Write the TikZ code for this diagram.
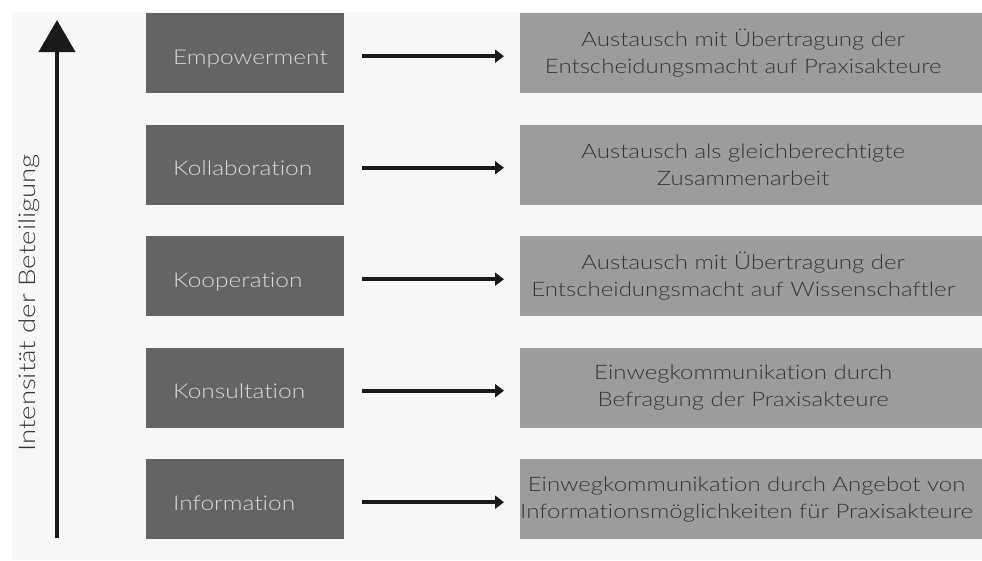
\documentclass[tikz,border=0pt]{standalone}
\usepackage{fontspec}
\setmainfont{Lato}[UprightFont={* Light}, FakeStretch=1.2, Ligatures=NoCommon]
\usetikzlibrary{arrows.meta}
\definecolor{bgcol}{HTML}{F7F7F7}
\definecolor{leftbox}{HTML}{646464}
\definecolor{lefttext}{HTML}{D8D8D8}
\definecolor{rightbox}{HTML}{9C9C9C}
\definecolor{righttext}{HTML}{363636}
\definecolor{arrcol}{HTML}{1A1A1A}
\tikzset{
  levelbox/.style={fill=leftbox, draw=none, minimum width=198pt, minimum height=80pt, inner sep=0pt, anchor=north west},
  leveltext/.style={text=lefttext, font=\fontsize{20.4}{24}\selectfont, anchor=base west, inner sep=0pt},
  descbox/.style={fill=rightbox, draw=none, minimum width=446pt, minimum height=80pt, inner sep=0pt, anchor=north west,
    text=righttext, align=center, font=\fontsize{20}{27}\selectfont},
  flow/.style={draw=arrcol, line width=3.6pt, -{Triangle[length=9pt,width=13pt]}, shorten <=18pt, shorten >=16pt},
}
\begin{document}
\begin{tikzpicture}[x=1pt,y=-1pt]
\useasboundingbox (0,0) rectangle (982,560);
\fill[white] (0,0) rectangle (982,560);
\fill[bgcol] (12,12) rectangle (982,560);
% axis
\coordinate (axbot) at (57,538);
\coordinate (axtop) at (57,20);
\draw[draw=arrcol, line width=4pt, -{Triangle[length=32pt,width=36pt]}] (axbot) -- (axtop);
\node[rotate=90, text=righttext, font=\fontsize{23}{27}\selectfont, inner sep=0pt] (axlabel) at (29,303) {Intensität der Beteiligung};
% levels
\foreach \i/\lt/\rt in {
  0/Empowerment/{Austausch mit Übertragung der\\Entscheidungsmacht auf Praxisakteure},
  1/Kollaboration/{Austausch als gleichberechtigte\\Zusammenarbeit},
  2/Kooperation/{Austausch mit Übertragung der\\Entscheidungsmacht auf Wissenschaftler},
  3/Konsultation/{Einwegkommunikation durch\\Befragung der Praxisakteure},
  4/Information/{Einwegkommunikation durch Angebot von\\Informationsmöglichkeiten für Praxisakteure}}{
  \pgfmathsetmacro{\ty}{13+111.5*\i}
  \fill[rightbox] (900,\ty) rectangle (982,\ty+80);
  \node[levelbox] (L\i) at (146,\ty) {};
  \node[leveltext] (LT\i) at ([xshift=27pt,yshift=-11pt]L\i.west) {\lt};
  \node[descbox] (R\i) at (520,\ty) {\rt};
  \draw[flow] ([yshift=-3pt]L\i.east) -- ([yshift=-3pt]R\i.west);
}
\end{tikzpicture}
\end{document}
